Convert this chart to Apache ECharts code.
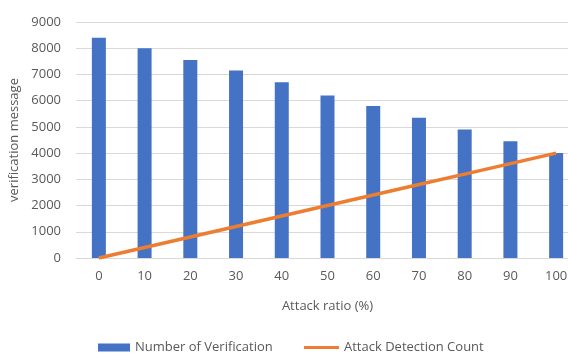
<!DOCTYPE html>
<html>
<head>
<meta charset="utf-8">
<script src="https://cdn.jsdelivr.net/npm/echarts@6/dist/echarts.min.js"></script>
<style>
  html, body { margin: 0; padding: 0; background: #fff; }
  #chart { width: 568px; height: 354px; }
</style>
</head>
<body>
<div id="chart"></div>
<script>
var attackRatio = ['0', '10', '20', '30', '40', '50', '60', '70', '80', '90', '100'];
var verificationCount = [8400, 8000, 7550, 7150, 6700, 6200, 5800, 5350, 4900, 4450, 4000];
var detectionCount = [0, 400, 800, 1200, 1600, 2000, 2400, 2800, 3200, 3600, 4000];

var myChart = echarts.init(document.getElementById('chart'));
var textFont = 'Open Sans';
var legendText = { color: '#595959', fontSize: 13, fontFamily: textFont };
var option = {
    animation: false,
    textStyle: { fontFamily: textFont },
    grid: {
        left: 76,
        right: -11,
        top: 22,
        bottom: 96,
        outerBoundsMode: 'none',
        containLabel: false
    },
    legend: [
        {
            bottom: 0,
            left: 98,
            padding: 0,
            itemWidth: 32,
            itemHeight: 8,
            textStyle: legendText,
            data: [{ name: 'Number of Verification', icon: 'rect' }]
        },
        {
            bottom: 0,
            left: 304,
            padding: 0,
            itemWidth: 35,
            itemHeight: 3,
            textStyle: legendText,
            data: [{ name: 'Attack Detection Count', icon: 'rect' }]
        }
    ],
    xAxis: {
        type: 'category',
        data: attackRatio,
        name: 'Attack ratio (%)',
        nameLocation: 'middle',
        nameGap: 42,
        nameTextStyle: { color: '#595959', fontSize: 13 },
        axisLine: { lineStyle: { color: '#d9d9d9', width: 1 } },
        axisTick: { show: false },
        axisLabel: { color: '#595959', fontSize: 13, margin: 12 }
    },
    yAxis: {
        type: 'value',
        min: 0,
        max: 9000,
        interval: 1000,
        name: 'verification message',
        nameLocation: 'middle',
        nameGap: 50,
        nameTextStyle: { color: '#595959', fontSize: 13 },
        axisLine: { show: false },
        axisTick: { show: false },
        axisLabel: {
            color: '#595959',
            fontSize: 13,
            margin: 15,
            formatter: function (v) { return String(v); }
        },
        splitLine: { lineStyle: { color: '#d9d9d9', width: 1 } }
    },
    series: [
        {
            name: 'Number of Verification',
            type: 'bar',
            data: verificationCount,
            barWidth: 14,
            itemStyle: { color: '#4472C4' }
        },
        {
            name: 'Attack Detection Count',
            type: 'line',
            data: detectionCount,
            symbol: 'none',
            lineStyle: { color: '#ED7D31', width: 3.5 },
            itemStyle: { color: '#ED7D31' }
        }
    ]
};
myChart.setOption(option);
</script>
</body>
</html>
